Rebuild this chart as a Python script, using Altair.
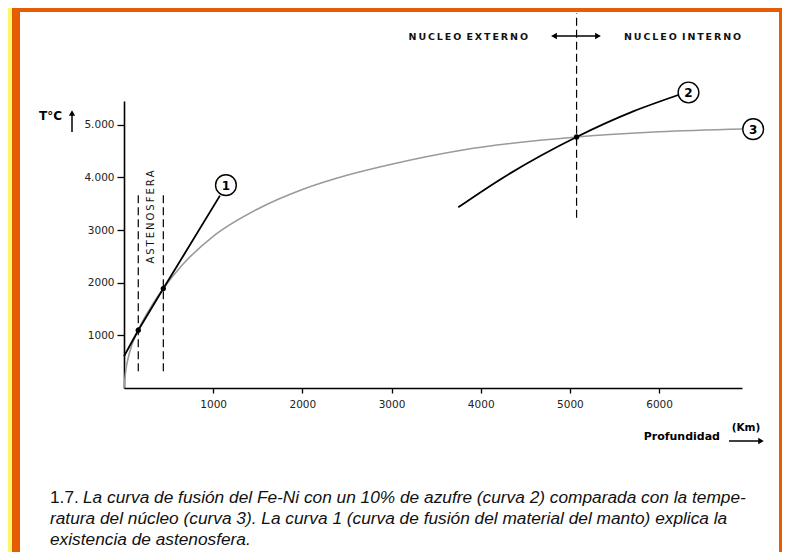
import altair as alt
import pandas as pd

# ---------------- data ----------------
# Curve 1: melting curve of mantle material (straight line)
c1_depth = [0, 160, 441, 1076]
c1_temp = [603, 1097, 1888, 3653]
# Curve 2: Fe-Ni + 10% S melting curve
c2_depth = [3748, 4215, 5075, 5710, 6225]
c2_temp = [3431, 3956, 4766, 5252, 5569]
# Curve 3: temperature profile (gray)
c3_depth = [0, 20, 60, 160, 300, 441, 650, 1000, 1500, 2000, 2500, 3000, 3800, 5075, 6000, 6943]
c3_temp = [0, 330, 660, 1097, 1530, 1888, 2330, 2880, 3400, 3770, 4040, 4250, 4520, 4766, 4865, 4918]
# intersection dots
pt_depth = [160, 441, 5075]
pt_temp = [1097, 1888, 4766]
# circled curve numbers
lab_text = ["1", "2", "3"]
lab_depth = [1143, 6330, 7055]
lab_temp = [3852, 5611, 4915]
# dashed vertical lines
dash_depth = [160, 441, 5075]
dash_t0 = [317, 317, 3235]
dash_t1 = [3672, 3672, 7116]
# axes
x_ticks = [1000, 2000, 3000, 4000, 5000, 6000]
y_ticks = [1000, 2000, 3000, 4000, 5000]
y_tick_labels = ["1000", "2000", "3000", "4.000", "5.000"]
# texts
zone_labels = ["N\u2009U\u2009C\u2009L\u2009E\u2009O\u2009 E\u2009X\u2009T\u2009E\u2009R\u2009N\u2009O",
               "N\u2009U\u2009C\u2009L\u2009E\u2009O\u2009 I\u2009N\u2009T\u2009E\u2009R\u2009N\u2009O"]
asteno_label = "A\u2009S\u2009T\u2009E\u2009N\u2009O\u2009S\u2009F\u2009E\u2009R\u2009A"
y_title = "T°C"
x_title = "Profundidad"
x_unit = "(Km)"
caption_num = "1.7."
caption_lines = [
    "La curva de fusión del Fe-Ni con un 10% de azufre (curva 2) comparada con la tempe-",
    "ratura del núcleo (curva 3). La curva 1 (curva de fusión del material del manto) explica la",
    "existencia de astenosfera.",
]

# ---------------- layout ----------------
X0, Y0 = 124, 101          # page position of plot-area top-left
W, H = 618, 287
XDOM, YDOM = [0, 6930], [0, 5450]


def px(x):
    return x - X0


def py(y):
    return y - Y0


one = pd.DataFrame({"a": [0]})
xs = alt.Scale(domain=XDOM, nice=False, zero=False)
ys = alt.Scale(domain=YDOM, nice=False, zero=False)

label_expr = " : ".join(
    f"datum.value == {v} ? '{l}'" for v, l in zip(y_ticks, y_tick_labels)
) + " : ''"

ORANGE = "#E65C02"
YELLOW = "#FEF76A"


def rect(x0, x1, y0, y1, color):
    return alt.Chart(one).mark_rect(color=color).encode(
        x=alt.value(px(x0)), x2=alt.value(px(x1)),
        y=alt.value(py(y0)), y2=alt.value(py(y1)))


def text(t, x, y, **kw):
    return alt.Chart(one).mark_text(text=t, **kw).encode(
        x=alt.value(px(x)), y=alt.value(py(y)))


def hrule(x0, x1, y, **kw):
    return alt.Chart(one).mark_rule(**kw).encode(
        x=alt.value(px(x0)), x2=alt.value(px(x1)), y=alt.value(py(y)))


def vrule(x, y0, y1, **kw):
    return alt.Chart(one).mark_rule(**kw).encode(
        x=alt.value(px(x)), y=alt.value(py(y0)), y2=alt.value(py(y1)))


def tri(shape, x, y, size=45):
    return alt.Chart(one).mark_point(shape=shape, filled=True, color="black",
                                     opacity=1, size=size).encode(
        x=alt.value(px(x)), y=alt.value(py(y)))


layers = []
# frame decoration
layers += [
    rect(8, 12, 8, 552, YELLOW),
    rect(12, 20, 8, 552, ORANGE),
    rect(12, 782, 8, 12, ORANGE),
    rect(779, 782, 8, 552, ORANGE),
]

# base with axes: curve 3 (gray)
df3 = pd.DataFrame({"d": c3_depth, "t": c3_temp})
base = alt.Chart(df3).mark_line(color="#9a9a9a", strokeWidth=1.6, interpolate="monotone").encode(
    x=alt.X("d:Q", scale=xs, axis=alt.Axis(
        values=x_ticks, title=None, grid=False, domainColor="black", domainWidth=1.6,
        tickColor="black", tickSize=5, tickWidth=1.3, labelFont="DejaVu Sans",
        labelFontSize=10.5, labelColor="#222", labelPadding=6, format="d")),
    y=alt.Y("t:Q", scale=ys, axis=alt.Axis(
        values=y_ticks, title=None, grid=False, domainColor="black", domainWidth=1.6,
        tickColor="black", tickSize=7, tickWidth=1.3, labelFont="DejaVu Sans",
        labelFontSize=10.5, labelColor="#222", labelPadding=3, labelExpr=label_expr)),
)
layers.append(base)

# dashed lines
dfd = pd.DataFrame({"d": dash_depth, "t": dash_t0, "t2": dash_t1})
layers.append(alt.Chart(dfd).mark_rule(color="black", strokeWidth=1.2, strokeDash=[8, 4]).encode(
    x=alt.X("d:Q", scale=xs), y=alt.Y("t:Q", scale=ys), y2="t2:Q"))

# curve 1 & 2
df1 = pd.DataFrame({"d": c1_depth, "t": c1_temp})
layers.append(alt.Chart(df1).mark_line(color="black", strokeWidth=1.8).encode(
    x=alt.X("d:Q", scale=xs), y=alt.Y("t:Q", scale=ys)))
df2 = pd.DataFrame({"d": c2_depth, "t": c2_temp})
layers.append(alt.Chart(df2).mark_line(color="black", strokeWidth=1.8, interpolate="monotone").encode(
    x=alt.X("d:Q", scale=xs), y=alt.Y("t:Q", scale=ys)))

# intersection dots
dfp = pd.DataFrame({"d": pt_depth, "t": pt_temp})
layers.append(alt.Chart(dfp).mark_circle(color="black", opacity=1, size=28).encode(
    x=alt.X("d:Q", scale=xs), y=alt.Y("t:Q", scale=ys)))

# circled labels
dfl = pd.DataFrame({"d": lab_depth, "t": lab_temp, "lab": lab_text})
layers.append(alt.Chart(dfl).mark_circle(fill="white", stroke="black", strokeWidth=1.4,
                                         opacity=1, fillOpacity=1, size=430).encode(
    x=alt.X("d:Q", scale=xs), y=alt.Y("t:Q", scale=ys)))
layers.append(alt.Chart(dfl).mark_text(font="DejaVu Sans", fontWeight="bold", fontSize=12,
                                       color="black", dy=0.5).encode(
    x=alt.X("d:Q", scale=xs), y=alt.Y("t:Q", scale=ys), text="lab:N"))

# ASTENOSFERA
layers.append(text(asteno_label, 151, 217, angle=270, font="DejaVu Sans", fontSize=10,
                   color="#111", align="center", baseline="middle"))

# NUCLEO labels and arrow
layers.append(text(zone_labels[0], 528, 37, font="DejaVu Sans", fontWeight="bold", fontSize=9.5,
                   color="#111", align="right", baseline="middle"))
layers.append(text(zone_labels[1], 624, 37, font="DejaVu Sans", fontWeight="bold", fontSize=9.5,
                   color="#111", align="left", baseline="middle"))
layers.append(hrule(553, 599, 36, color="black", strokeWidth=1.5))
layers.append(tri("triangle-left", 554, 36))
layers.append(tri("triangle-right", 598, 36))

# y title with arrow
layers.append(text(y_title, 62, 116, font="DejaVu Sans", fontWeight="bold", fontSize=12,
                   color="black", align="right", baseline="middle"))
layers.append(vrule(72, 114, 132, color="black", strokeWidth=1.5))
layers.append(tri("triangle-up", 72, 113, 40))

# x title with arrow
layers.append(text(x_title, 720, 437, font="DejaVu Sans", fontWeight="bold", fontSize=11,
                   color="black", align="right", baseline="middle"))
layers.append(text(x_unit, 746, 428, font="DejaVu Sans", fontWeight="bold", fontSize=10.5,
                   color="black", align="center", baseline="middle"))
layers.append(hrule(729, 760, 441, color="black", strokeWidth=1.5))
layers.append(tri("triangle-right", 761, 441, 40))

# caption
cap_font = dict(font="Liberation Sans", fontSize=17.3, color="#111",
                align="left", baseline="alphabetic")
layers.append(text(caption_num, 50, 503, **cap_font))
layers.append(text(caption_lines[0], 83, 503, fontStyle="italic", **cap_font))
layers.append(text(caption_lines[1], 50, 524, fontStyle="italic", **cap_font))
layers.append(text(caption_lines[2], 50, 545, fontStyle="italic", **cap_font))

chart = alt.layer(*layers).properties(
    width=W, height=H,
    autosize=alt.AutoSizeParams(type="none"),
    padding={"left": X0 - 8, "top": Y0 - 8, "right": 774 - (X0 - 8) - W,
             "bottom": 544 - (Y0 - 8) - H},
    background="white",
).configure_view(stroke=None)

chart.save("out.html", embed_options={"renderer": "svg", "actions": False})
